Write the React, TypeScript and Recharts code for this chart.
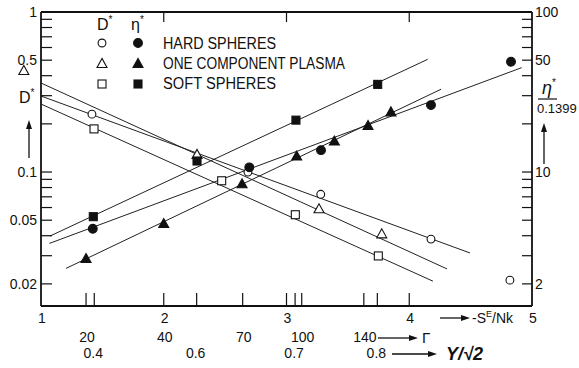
import { ComposedChart, Line, Scatter, XAxis, YAxis, ReferenceDot, ReferenceLine } from 'recharts'

document.body.style.margin = '0'

const FONT = '"Liberation Sans", Arial, sans-serif'
const INK = '#111'

// x axis: -S^E/Nk, with the Gamma and Y/sqrt2 scales marked underneath
const sTicks = [1, 2, 3, 4, 5]
const gammaAt = [1.367, 2.0, 2.643, 3.124, 3.63]
const gammaLabels = ['20', '40', '70', '100', '140']
const packAt = [1.434, 2.268, 3.07, 3.74]
const packLabels = ['0.4', '0.6', '0.7', '0.8']
const topTicks = [2, 3, 4]
const bottomTicks = [...new Set([...sTicks, ...gammaAt, ...packAt])].sort((a, b) => a - b)

// left: D*, right: eta*/0.1399 (both log)
const dTicks = [0.02, 0.03, 0.04, 0.05, 0.06, 0.07, 0.08, 0.09, 0.1, 0.2, 0.3, 0.4, 0.5, 0.6, 0.7, 0.8, 0.9, 1]
const dLabels = [1, 0.5, 0.1, 0.05, 0.02]
const etaTicks = [2, 3, 4, 5, 6, 7, 8, 9, 10, 20, 30, 40, 50, 60, 70, 80, 90, 100]
const etaLabels = [100, 50, 10, 2]

// D* (open symbols)
const hsD = [
  { x: 1.415, y: 0.23 }, { x: 2.686, y: 0.1 }, { x: 3.279, y: 0.0726 },
  { x: 4.177, y: 0.0381 }, { x: 4.82, y: 0.0211 },
]
const ocpD = [{ x: 2.271, y: 0.128 }, { x: 3.265, y: 0.0585 }, { x: 3.776, y: 0.0408 }]
const ocpDLow = { x: 0.86, y: 0.428 }
const ssD = [{ x: 1.432, y: 0.186 }, { x: 2.472, y: 0.0882 }, { x: 3.072, y: 0.0541 }, { x: 3.748, y: 0.0299 }]

// eta* (filled symbols)
const hsEta = [
  { x: 1.422, y: 4.42 }, { x: 2.697, y: 10.7 }, { x: 3.281, y: 13.7 },
  { x: 4.177, y: 26.2 }, { x: 4.829, y: 48.9 },
]
const ocpEta = [
  { x: 1.367, y: 2.86 }, { x: 2.0, y: 4.73 }, { x: 2.638, y: 8.38 }, { x: 3.083, y: 12.5 },
  { x: 3.39, y: 15.5 }, { x: 3.664, y: 19.4 }, { x: 3.851, y: 23.6 },
]
const ssEta = [{ x: 1.426, y: 5.26 }, { x: 2.271, y: 11.72 }, { x: 3.077, y: 21.1 }, { x: 3.743, y: 35.3 }]

// fitted straight lines (end points)
const hsDFit = [{ x: 1, y: 0.2985 }, { x: 4.495, y: 0.0312 }]
const ocpDFit = [{ x: 1, y: 0.36 }, { x: 4.308, y: 0.0248 }]
const ssDFit = [{ x: 1, y: 0.266 }, { x: 4.193, y: 0.0208 }]
const hsEtaFit = [{ x: 1.068, y: 3.58 }, { x: 4.916, y: 44.9 }]
const ocpEtaFit = [{ x: 1.204, y: 2.5 }, { x: 4.259, y: 32.9 }]
const ssEtaFit = [{ x: 1.073, y: 3.98 }, { x: 4.15, y: 50.6 }]

type Kind = 'circle' | 'triangle' | 'square'

function Marker({ cx, cy, kind, filled }: { cx: number; cy: number; kind: Kind; filled: boolean }) {
  const fill = filled ? INK : '#fff'
  if (kind === 'circle') return <circle cx={cx} cy={cy} r={filled ? 4.4 : 3.9} fill={fill} stroke={INK} strokeWidth={1.1} />
  if (kind === 'square') return <rect x={cx - 4} y={cy - 4} width={8} height={8} fill={fill} stroke={INK} strokeWidth={1.1} />
  return (
    <polygon
      points={`${cx},${cy - 5.5} ${cx - 5},${cy + 3.5} ${cx + 5},${cy + 3.5}`}
      fill={fill}
      stroke={INK}
      strokeWidth={1.1}
    />
  )
}

const shape = (kind: Kind, filled: boolean) => (p: any) => <Marker cx={p.cx} cy={p.cy} kind={kind} filled={filled} />

const txt = { fontFamily: FONT, fontSize: 14, fill: INK }

function LeftTick(p: any) {
  const v = p.payload.value
  return (
    <g>
      <line x1={p.x} x2={p.x + 11} y1={p.y} y2={p.y} stroke={INK} strokeWidth={1.2} />
      {dLabels.includes(v) && (
        <text x={p.x - 4} y={p.y} textAnchor="end" dominantBaseline="central" {...txt}>{String(v)}</text>
      )}
    </g>
  )
}

function RightTick(p: any) {
  const v = p.payload.value
  return (
    <g>
      <line x1={p.x - 10} x2={p.x} y1={p.y} y2={p.y} stroke={INK} strokeWidth={1.2} />
      {etaLabels.includes(v) && (
        <text x={p.x + 3} y={p.y} textAnchor="start" dominantBaseline="central" {...txt}>{String(v)}</text>
      )}
    </g>
  )
}

function BottomTick(p: any) {
  const v = p.payload.value
  const si = sTicks.indexOf(v)
  const gi = gammaAt.indexOf(v)
  const pi = packAt.indexOf(v)
  const edge = v === 1 || v === 5
  return (
    <g>
      {!edge && <line x1={p.x} x2={p.x} y1={p.y - 13} y2={p.y} stroke={INK} strokeWidth={1.2} />}
      {si >= 0 && <text x={p.x + 1} y={p.y + 12} textAnchor="middle" dominantBaseline="central" {...txt}>{String(v)}</text>}
      {gi >= 0 && <text x={p.x + 1} y={p.y + 31} textAnchor="middle" dominantBaseline="central" {...txt}>{gammaLabels[gi]}</text>}
      {pi >= 0 && <text x={p.x - 1} y={p.y + 47} textAnchor="middle" dominantBaseline="central" {...txt}>{packLabels[pi]}</text>}
    </g>
  )
}

// short inward tick hanging from the top frame
function TopStub(p: any) {
  const top = Math.min(p.y1, p.y2)
  return <line x1={p.x1} x2={p.x1} y1={top} y2={top + 10} stroke={INK} strokeWidth={1.2} />
}

function Arrow({ x1, y1, x2, y2 }: { x1: number; y1: number; x2: number; y2: number }) {
  const a = Math.atan2(y2 - y1, x2 - x1)
  const L = 9, W = 3
  const bx = x2 - L * Math.cos(a), by = y2 - L * Math.sin(a)
  const nx = -Math.sin(a) * W, ny = Math.cos(a) * W
  return (
    <g>
      <line x1={x1} y1={y1} x2={bx} y2={by} stroke={INK} strokeWidth={1.3} />
      <polygon points={`${x2},${y2} ${bx + nx},${by + ny} ${bx - nx},${by - ny}`} fill={INK} />
    </g>
  )
}

const fitLine = { stroke: '#222', strokeWidth: 1, dot: false, isAnimationActive: false, type: 'linear' as const, dataKey: 'y', xAxisId: 's' }

export default function App() {
  return (
    <div style={{ position: 'relative', width: 579, height: 368, background: '#fff' }}>
      <ComposedChart width={579} height={368} margin={{ top: 11, right: 0, bottom: 0, left: 0 }}>
        <XAxis
          xAxisId="s"
          dataKey="x"
          type="number"
          domain={[1, 5]}
          allowDataOverflow
          ticks={bottomTicks}
          interval={0}
          height={62}
          tickSize={0}
          tickMargin={0}
          tickLine={false}
          axisLine={{ stroke: INK, strokeWidth: 1.8 }}
          tick={BottomTick}
        />
        <XAxis
          xAxisId="top"
          orientation="top"
          dataKey="x"
          type="number"
          domain={[1, 5]}
          allowDataOverflow
          height={1}
          tick={false}
          tickLine={false}
          axisLine={{ stroke: INK, strokeWidth: 1.8 }}
        />
        <YAxis
          yAxisId="D"
          dataKey="y"
          scale="log"
          type="number"
          domain={[0.01455, 1]}
          allowDataOverflow
          ticks={dTicks}
          interval={0}
          width={41}
          tickSize={0}
          tickMargin={0}
          tickLine={false}
          axisLine={{ stroke: INK, strokeWidth: 1.8 }}
          tick={LeftTick}
        />
        <YAxis
          yAxisId="eta"
          orientation="right"
          dataKey="y"
          scale="log"
          type="number"
          domain={[1.455, 100]}
          allowDataOverflow
          ticks={etaTicks}
          interval={0}
          width={47}
          tickSize={0}
          tickMargin={0}
          tickLine={false}
          axisLine={{ stroke: INK, strokeWidth: 1.8 }}
          tick={RightTick}
        />

        {topTicks.map(v => (
          <ReferenceLine key={v} xAxisId="s" yAxisId="D" x={v} shape={TopStub} />
        ))}

        <Line {...fitLine} yAxisId="D" data={hsDFit} />
        <Line {...fitLine} yAxisId="D" data={ocpDFit} />
        <Line {...fitLine} yAxisId="D" data={ssDFit} />
        <Line {...fitLine} yAxisId="eta" data={hsEtaFit} />
        <Line {...fitLine} yAxisId="eta" data={ocpEtaFit} />
        <Line {...fitLine} yAxisId="eta" data={ssEtaFit} />

        <Scatter xAxisId="s" yAxisId="D" dataKey="y" data={hsD} shape={shape('circle', false)} isAnimationActive={false} />
        <Scatter xAxisId="s" yAxisId="D" dataKey="y" data={ocpD} shape={shape('triangle', false)} isAnimationActive={false} />
        <Scatter xAxisId="s" yAxisId="D" dataKey="y" data={ssD} shape={shape('square', false)} isAnimationActive={false} />
        <Scatter xAxisId="s" yAxisId="eta" dataKey="y" data={hsEta} shape={shape('circle', true)} isAnimationActive={false} />
        <Scatter xAxisId="s" yAxisId="eta" dataKey="y" data={ocpEta} shape={shape('triangle', true)} isAnimationActive={false} />
        <Scatter xAxisId="s" yAxisId="eta" dataKey="y" data={ssEta} shape={shape('square', true)} isAnimationActive={false} />

        <ReferenceDot
          xAxisId="s"
          yAxisId="D"
          x={ocpDLow.x}
          y={ocpDLow.y}
          ifOverflow="visible"
          shape={shape('triangle', false)}
        />
      </ComposedChart>

      <svg width={579} height={368} style={{ position: 'absolute', left: 0, top: 0, pointerEvents: 'none' }}>
        {/* legend */}
        <g fontFamily={FONT} fill={INK}>
          <text x={97} y={30} fontSize={16}>D<tspan dy={-7} fontSize={10}>*</tspan></text>
          <text x={131} y={30} fontSize={16}>η<tspan dy={-7} fontSize={10}>*</tspan></text>
          <Marker cx={102} cy={43} kind="circle" filled={false} />
          <Marker cx={138} cy={43} kind="circle" filled />
          <Marker cx={102} cy={64} kind="triangle" filled={false} />
          <Marker cx={138} cy={64} kind="triangle" filled />
          <Marker cx={102} cy={84} kind="square" filled={false} />
          <Marker cx={138} cy={84} kind="square" filled />
          <text x={163} y={49} fontSize={16} textLength={113} lengthAdjust="spacingAndGlyphs">HARD SPHERES</text>
          <text x={163} y={69} fontSize={16} textLength={182} lengthAdjust="spacingAndGlyphs">ONE COMPONENT PLASMA</text>
          <text x={163} y={89} fontSize={16} textLength={113} lengthAdjust="spacingAndGlyphs">SOFT SPHERES</text>
        </g>

        {/* left axis title */}
        <text x={19} y={103} fontFamily={FONT} fontSize={16} fill={INK}>D<tspan dy={-7} fontSize={10}>*</tspan></text>
        <Arrow x1={29} y1={158} x2={29} y2={120} />

        {/* right axis title */}
        <text x={542} y={94} fontFamily={FONT} fontSize={18} fill={INK} fontStyle="italic">η<tspan dy={-8} fontSize={10} fontStyle="normal">*</tspan></text>
        <line x1={538} x2={557} y1={99} y2={99} stroke={INK} strokeWidth={1.2} />
        <text x={537} y={113} fontFamily={FONT} fontSize={13} fill={INK}>0.1399</text>
        <Arrow x1={544} y1={164} x2={544} y2={123} />

        {/* bottom axis titles */}
        <Arrow x1={440} y1={318} x2={470} y2={318} />
        <text x={472} y={323} fontFamily={FONT} fontSize={14} fill={INK}>
          -S<tspan dy={-6} fontSize={9}>E</tspan><tspan dy={6}>/Nk</tspan>
        </text>
        <Arrow x1={378} y1={338} x2={418} y2={338} />
        <text x={422} y={343} fontFamily={FONT} fontSize={15} fill={INK}>Γ</text>
        <Arrow x1={392} y1={354} x2={437} y2={354} />
        <text x={446} y={360} fontFamily={FONT} fontSize={18} fontWeight="bold" fontStyle="italic" fill={INK}>Y/√2</text>
      </svg>
    </div>
  )
}
